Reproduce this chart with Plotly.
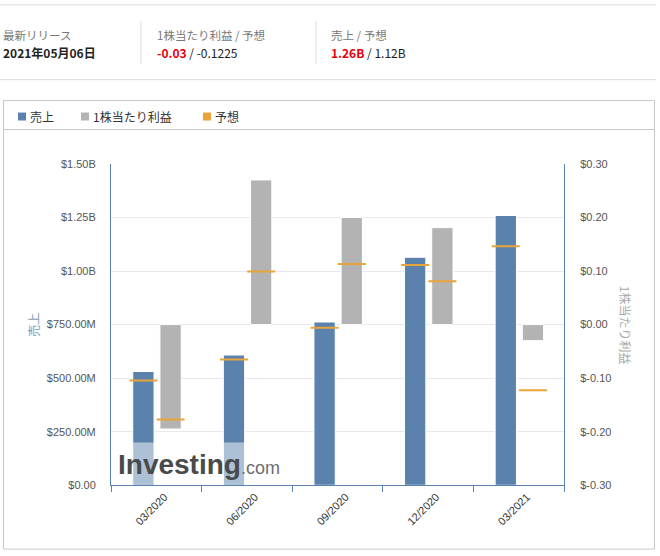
import plotly.graph_objects as go

# ---------------- data ----------------
quarters = ["03/2020", "06/2020", "09/2020", "12/2020", "03/2021"]
revenue = [0.531e9, 0.608e9, 0.762e9, 1.064e9, 1.259e9]
revenue_forecast = [0.489e9, 0.587e9, 0.735e9, 1.028e9, 1.116e9]
eps = [-0.195, 0.27, 0.20, 0.181, -0.03]
eps_forecast = [-0.177, 0.099, 0.113, 0.081, -0.1225]

rev_ticks = [0, 0.25e9, 0.5e9, 0.75e9, 1.0e9, 1.25e9, 1.5e9]
rev_tick_text = ["$0.00", "$250.00M", "$500.00M", "$750.00M", "$1.00B", "$1.25B", "$1.50B"]
eps_ticks = [-0.3, -0.2, -0.1, 0.0, 0.1, 0.2, 0.3]
eps_tick_text = ["$-0.30", "$-0.20", "$-0.10", "$0.00", "$0.10", "$0.20", "$0.30"]

header_labels = ["最新リリース", "1株当たり利益 / 予想", "売上 / 予想"]
legend_names = ["売上", "1株当たり利益", "予想"]

# ---------------- style ----------------
W, H = 660, 556
BLUE = "#5b82ad"
GRAY = "#b3b3b3"
ORANGE = "#e9a43a"
FONT = "Noto Sans CJK JP, Noto Sans, sans-serif"
TICKFONT = "Liberation Sans, Arial, sans-serif"


def px(x):
    return x / W


def py(y):
    yc = (y - 5.1) / 0.9817
    return 1 - yc / H


idx = list(range(len(quarters)))
BW = 0.235
REV_OFF = -0.26
EPS_OFF = 0.04
LABEL_SHIFT = 0.09

fig = go.Figure()
fig.add_trace(go.Bar(
    x=idx, y=revenue, width=BW, offset=REV_OFF, marker=dict(color=BLUE, line=dict(color="white", width=1)),
    name=legend_names[0], xaxis="x", yaxis="y", showlegend=False, hoverinfo="skip"))
fig.add_trace(go.Bar(
    x=idx, y=eps, width=BW, offset=EPS_OFF, marker=dict(color=GRAY, line=dict(color="white", width=1)),
    name=legend_names[1], xaxis="x", yaxis="y2", showlegend=False, hoverinfo="skip"))
fig.add_trace(go.Scatter(
    x=[i + REV_OFF + BW / 2 for i in idx], y=revenue_forecast, mode="markers",
    marker=dict(symbol="line-ew", size=20, line=dict(color=ORANGE, width=2)),
    yaxis="y", showlegend=False, hoverinfo="skip"))
fig.add_trace(go.Scatter(
    x=[i + EPS_OFF + BW / 2 for i in idx], y=eps_forecast, mode="markers",
    marker=dict(symbol="line-ew", size=20, line=dict(color=ORANGE, width=2)),
    yaxis="y2", showlegend=False, hoverinfo="skip"))

fig.update_layout(
    width=W, height=H, margin=dict(l=0, r=0, t=0, b=0),
    paper_bgcolor="white", plot_bgcolor="white",
    barmode="overlay", showlegend=False,
    font=dict(family=FONT, color="#333"),
    xaxis=dict(
        domain=[px(111), px(564)], range=[-0.5, len(quarters) - 0.5],
        tickvals=[i + LABEL_SHIFT for i in idx], ticktext=quarters, tickangle=-45, ticks="",
        tickfont=dict(family=TICKFONT, size=11, color="#333"),
        showgrid=False, zeroline=False, showline=True, linecolor=BLUE, linewidth=1,
        minor=dict(tickvals=[i - 0.5 for i in range(len(quarters) + 1)], ticks="outside",
                   ticklen=6, tickcolor=BLUE, showgrid=False),
        fixedrange=True,
    ),
    yaxis=dict(
        domain=[py(486), py(163.5)], range=[0, 1.5e9],
        tickvals=rev_ticks, ticktext=rev_tick_text,
        tickfont=dict(family=TICKFONT, size=11, color="#555"),
        ticklabelstandoff=12,
        showgrid=True, gridcolor="#e6e9ef", gridwidth=1, zeroline=False,
        showline=True, linecolor=BLUE, linewidth=1, ticks="",
    ),
    yaxis2=dict(
        overlaying="y", side="right", anchor="x", range=[-0.3, 0.3],
        tickvals=eps_ticks, ticktext=eps_tick_text,
        tickfont=dict(family=TICKFONT, size=11, color="#555"),
        ticklabelstandoff=13,
        showgrid=False, zeroline=False, showline=True, linecolor=BLUE, linewidth=1, ticks="",
    ),
)

shapes = []
annotations = []

# header lines
shapes.append(dict(type="line", xref="paper", yref="paper", x0=0, x1=px(656), y0=py(4), y1=py(4),
                   line=dict(color="#dddddd", width=1)))
shapes.append(dict(type="line", xref="paper", yref="paper", x0=0, x1=px(656), y0=py(79), y1=py(79),
                   line=dict(color="#dddddd", width=1)))
for sx in [141, 316]:
    shapes.append(dict(type="line", xref="paper", yref="paper", x0=px(sx), x1=px(sx), y0=py(20), y1=py(63),
                       line=dict(color="#dddddd", width=1)))

header_x = [1, 155, 329]
header_values = [
    "<b>2021年05月06日</b>",
    "<b><span style='color:#e8000b'>-0.03</span></b> / -0.1225",
    "<b><span style='color:#e8000b'>1.26B</span></b> / 1.12B",
]
for hx, lab, val in zip(header_x, header_labels, header_values):
    annotations.append(dict(xref="paper", yref="paper", x=px(hx), y=py(34), text=lab, showarrow=False,
                            xanchor="left", yanchor="middle", font=dict(size=11.5, color="#777", family=FONT)))
    annotations.append(dict(xref="paper", yref="paper", x=px(hx), y=py(51.5), text=val, showarrow=False,
                            xanchor="left", yanchor="middle", font=dict(size=12, color="#222", family=FONT)))

# chart box
shapes.append(dict(type="rect", xref="paper", yref="paper", x0=px(3.5), x1=px(654.5), y0=py(100), y1=py(550),
                   line=dict(color="#c8c8c8", width=1), fillcolor="rgba(0,0,0,0)", layer="below"))
shapes.append(dict(type="line", xref="paper", yref="paper", x0=px(3.5), x1=px(654.5), y0=py(129), y1=py(129),
                   line=dict(color="#c8c8c8", width=1)))

# legend
legend_colors = [BLUE, GRAY, ORANGE]
legend_sq_x = [18, 81, 203]
for sx, col, name in zip(legend_sq_x, legend_colors, legend_names):
    shapes.append(dict(type="rect", xref="paper", yref="paper", x0=px(sx), x1=px(sx + 8), y0=py(120), y1=py(112),
                       line=dict(width=0), fillcolor=col))
    annotations.append(dict(xref="paper", yref="paper", x=px(sx + 10), y=py(115.5), text=name, showarrow=False,
                            xanchor="left", yanchor="middle", font=dict(size=12, color="#333", family=FONT)))

# axis titles
annotations.append(dict(xref="paper", yref="paper", x=px(34), y=py(325), text=legend_names[0], textangle=-90,
                        xanchor="center", yanchor="middle",
                        showarrow=False, font=dict(size=12, color="#7d99ba", family=FONT)))
annotations.append(dict(xref="paper", yref="paper", x=px(625), y=py(325), text=legend_names[1], textangle=90,
                        xanchor="center", yanchor="middle",
                        showarrow=False, font=dict(size=12, color="#aaaaaa", family=FONT)))

# watermark
shapes.append(dict(type="rect", xref="paper", yref="paper", x0=px(111.5), x1=px(290), y0=py(485.5), y1=py(443),
                   line=dict(width=0), fillcolor="rgba(255,255,255,0.5)", layer="above"))
annotations.append(dict(xref="paper", yref="paper", x=px(116), y=py(465), xanchor="left", yanchor="middle",
                        text="<b>Investing</b><span style='font-size:18px;color:#6d6d6d'>.com</span>",
                        showarrow=False, font=dict(size=28, color="#4a4a4a", family="Liberation Sans, Arial, sans-serif")))

fig.update_layout(shapes=shapes, annotations=annotations)
fig.write_html("out.html", config={"displayModeBar": False},
               post_script="document.body.style.margin='0';document.body.style.padding='0';")
